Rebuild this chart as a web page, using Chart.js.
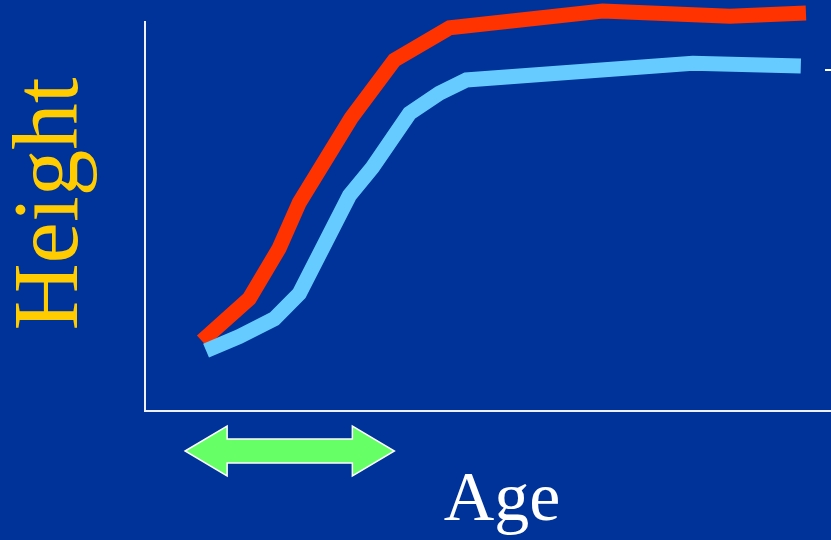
<!DOCTYPE html>
<html>
<head>
<meta charset="utf-8">
<script src="https://cdn.jsdelivr.net/npm/chart.js@4/dist/chart.umd.min.js"></script>
<style>
  html, body { margin: 0; padding: 0; background: #003399; overflow: hidden; }
  canvas { display: block; }
</style>
</head>
<body>
<canvas id="growth" width="831" height="540"></canvas>
<script>
// Growth curves: height against age, two groups
const ageRed = [1.66, 3.04, 3.91, 4.50, 6.01, 7.27, 8.88, 13.34, 17.05, 19.27];
const heightRed = [18.0, 28.9, 41.8, 53.6, 75.3, 90.2, 98.5, 102.8, 101.5, 102.3];

const ageBlue = [1.78, 2.74, 3.77, 4.50, 5.96, 6.63, 7.71, 8.58, 9.37, 15.97, 19.12];
const heightBlue = [15.5, 19.1, 23.7, 30.2, 55.4, 62.6, 76.5, 81.7, 85.1, 89.4, 88.7];

// Span of the highlighted early-growth period (in age units)
const spurtSpan = [1.17, 7.27];

const xLabel = 'Age';
const yLabel = 'Height';

const toPoints = (xs, ys) => xs.map((x, i) => ({ x, y: ys[i] }));

const decorations = {
  id: 'decorations',
  afterDraw(chart) {
    const { ctx, scales } = chart;
    const xs = scales.x;
    ctx.save();

    // y-axis title, rotated
    ctx.fillStyle = '#ffcc00';
    ctx.font = '93px "Liberation Serif", "Times New Roman", serif';
    ctx.textAlign = 'center';
    ctx.textBaseline = 'alphabetic';
    ctx.translate(77, 204);
    ctx.rotate(-Math.PI / 2);
    ctx.fillText(yLabel, 0, 0);
    ctx.setTransform(1, 0, 0, 1, 0, 0);

    // x-axis title
    ctx.fillStyle = '#ffffff';
    ctx.font = '70px "Liberation Serif", "Times New Roman", serif';
    ctx.textAlign = 'center';
    ctx.fillText(xLabel, 502, 520);

    // double-headed arrow marking the early-growth span
    const x0 = xs.getPixelForValue(spurtSpan[0]);
    const x1 = xs.getPixelForValue(spurtSpan[1]);
    const cy = 451, shaft = 12, head = 25, headLen = 42;
    ctx.beginPath();
    ctx.moveTo(x0, cy);
    ctx.lineTo(x0 + headLen, cy - head);
    ctx.lineTo(x0 + headLen, cy - shaft);
    ctx.lineTo(x1 - headLen, cy - shaft);
    ctx.lineTo(x1 - headLen, cy - head);
    ctx.lineTo(x1, cy);
    ctx.lineTo(x1 - headLen, cy + head);
    ctx.lineTo(x1 - headLen, cy + shaft);
    ctx.lineTo(x0 + headLen, cy + shaft);
    ctx.lineTo(x0 + headLen, cy + head);
    ctx.closePath();
    ctx.fillStyle = '#66ff66';
    ctx.fill();
    ctx.strokeStyle = '#ffffff';
    ctx.lineWidth = 1.5;
    ctx.stroke();

    // short marker at the right edge
    ctx.beginPath();
    ctx.moveTo(825, 70);
    ctx.lineTo(831, 70);
    ctx.strokeStyle = '#ffffff';
    ctx.lineWidth = 2;
    ctx.stroke();

    ctx.restore();
  }
};

new Chart(document.getElementById('growth'), {
  type: 'scatter',
  data: {
    datasets: [
      {
        data: toPoints(ageBlue, heightBlue),
        showLine: true,
        borderColor: '#66ccff',
        borderWidth: 15,
        borderCapStyle: 'butt',
        borderJoinStyle: 'miter',
        pointRadius: 0,
        pointHoverRadius: 0,
        tension: 0,
        clip: false,
        order: 0
      },
      {
        data: toPoints(ageRed, heightRed),
        showLine: true,
        borderColor: '#ff3300',
        borderWidth: 15,
        borderCapStyle: 'butt',
        borderJoinStyle: 'miter',
        pointRadius: 0,
        pointHoverRadius: 0,
        tension: 0,
        clip: false,
        order: 1
      }
    ]
  },
  options: {
    responsive: false,
    animation: false,
    devicePixelRatio: 1,
    layout: { padding: { left: 145, top: 22, right: 0, bottom: 129 } },
    plugins: { legend: { display: false }, tooltip: { enabled: false } },
    scales: {
      x: {
        type: 'linear', min: 0, max: 20,
        grid: { display: false, drawTicks: false },
        ticks: { display: false },
        border: { display: true, color: '#eef0ff', width: 2 }
      },
      y: {
        type: 'linear', min: 0, max: 100,
        grid: { display: false, drawTicks: false },
        ticks: { display: false },
        border: { display: true, color: '#eef0ff', width: 2 }
      }
    }
  },
  plugins: [decorations]
});
</script>
</body>
</html>
